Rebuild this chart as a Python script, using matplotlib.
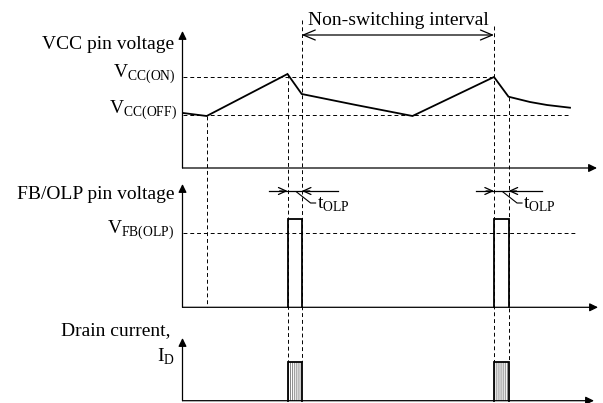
import numpy as np
import matplotlib
matplotlib.use("Agg")
import matplotlib.pyplot as plt
from matplotlib.patches import Rectangle

plt.rcParams["font.family"] = ["Liberation Serif", "DejaVu Serif"]
plt.rcParams["mathtext.fontset"] = "custom"
plt.rcParams["mathtext.rm"] = "Liberation Serif"
plt.rcParams["hatch.linewidth"] = 0.5

# --- data (canvas units, x = time position, heights above each panel's axis) ---
axis_x = 182.5
panel_base = [168.0, 307.3, 400.7]        # VCC, FB/OLP, drain current
panel_top = [31.0, 184.0, 338.0]
panel_end = [597.0, 598.0, 594.0]

vcc_t = [183.0, 206.7, 287.5, 301.7, 355.0, 412.5, 494.0, 508.5, 530.0, 547.0, 570.0]
vcc_h = [55.0, 52.0, 94.0, 74.0, 63.2, 52.0, 91.0, 71.3, 66.0, 63.0, 60.3]

vcc_on_h = 90.7
vcc_off_h = 52.6

vfb_olp_h = 74.0

pulse_start = [287.6, 494.0]
pulse_end = [301.8, 508.5]
fb_pulse_h = 88.0
id_pulse_h = 39.0

t_olp_extent = [(268.5, 338.0), (475.5, 542.0)]
t_olp_y = 191.0

# vertical guides: x, y from, y to
guides = [(206.7, 116.0, 307.0), (287.5, 74.0, 361.7), (301.7, 20.0, 361.7),
          (494.0, 26.0, 361.7), (508.5, 96.7, 361.7)]

fig = plt.figure(figsize=(6.03, 4.03), dpi=100)
ax = fig.add_axes([0, 0, 1, 1])
ax.set_xlim(0, 603)
ax.set_ylim(403, 0)
ax.axis("off")

dash = dict(color="black", lw=0.7, linestyle=(0, (4, 3)))
wave = dict(color="black", lw=1.3, solid_joinstyle="miter")


def axis_arrow(x0, y0, x1, y1):
    ax.annotate("", xy=(x1, y1), xytext=(x0, y0),
                arrowprops=dict(arrowstyle="-|>,head_length=0.45,head_width=0.22",
                                lw=0.9, color="black", mutation_scale=11,
                                shrinkA=0, shrinkB=0))


# axes of the three panels
for base, top, end in zip(panel_base, panel_top, panel_end):
    axis_arrow(axis_x, base, axis_x, top)
    axis_arrow(axis_x, base, end, base)

# dashed level lines
b0, b1, b2 = panel_base
ax.plot([axis_x, 494.0], [b0 - vcc_on_h, b0 - vcc_on_h], **dash)
ax.plot([axis_x, 569.0], [b0 - vcc_off_h, b0 - vcc_off_h], **dash)
ax.plot([axis_x, 577.0], [b1 - vfb_olp_h, b1 - vfb_olp_h], **dash)

for gx, gy0, gy1 in guides:
    ax.plot([gx, gx], [gy0, gy1], **dash)

# VCC waveform
ax.plot(vcc_t, [b0 - h for h in vcc_h], **wave)

# FB/OLP pulses
for s, e in zip(pulse_start, pulse_end):
    ax.plot([s, s, e, e], [b1, b1 - fb_pulse_h, b1 - fb_pulse_h, b1], **wave)

# drain current pulses (hatched)
for s, e in zip(pulse_start, pulse_end):
    ax.add_patch(Rectangle((s, b2 - id_pulse_h), e - s, id_pulse_h,
                           facecolor="white", edgecolor="#555555",
                           hatch="|" * 8, lw=0))
    ax.plot([s, s, e, e], [b2, b2 - id_pulse_h, b2 - id_pulse_h, b2], **wave)

# Non-switching interval
ax.annotate("", xy=(494.0, 35.0), xytext=(301.7, 35.0),
            arrowprops=dict(arrowstyle="<->,head_length=0.86,head_width=0.36",
                            lw=0.9, color="black", mutation_scale=10,
                            shrinkA=0, shrinkB=0))
ax.text(398.0, 25.0, "Non-switching interval", fontsize=14, ha="center", va="baseline")

# t_OLP markers
for (x0, x1), s, e in zip(t_olp_extent, pulse_start, pulse_end):
    ax.plot([x0, x1], [t_olp_y, t_olp_y], color="black", lw=0.9)
    for tip, tail in ((s, s - 8), (e, e + 8)):
        ax.annotate("", xy=(tip, t_olp_y), xytext=(tail, t_olp_y),
                    arrowprops=dict(arrowstyle="->,head_length=0.55,head_width=0.25",
                                    lw=0.9, color="black", mutation_scale=10,
                                    shrinkA=0, shrinkB=0))
    lx = s + 9
    ax.plot([lx, lx + 14, lx + 19], [t_olp_y + 1, 203.0, 203.0], color="black", lw=0.8)
    ax.text(lx + 20, 209.0, r"t$_{\mathrm{OLP}}$", fontsize=14, ha="left", va="baseline")

# labels
lab = dict(fontsize=14, ha="right", va="baseline")
ax.text(174.0, 49.3, "VCC pin voltage", **lab)
ax.text(176.0, 77.3, r"V$_{\mathrm{CC(ON)}}$", **lab)
ax.text(177.0, 114.0, r"V$_{\mathrm{CC(OFF)}}$", **lab)
ax.text(174.5, 199.0, "FB/OLP pin voltage", **lab)
ax.text(174.0, 233.3, r"V$_{\mathrm{FB(OLP)}}$", **lab)
ax.text(170.5, 335.0, "Drain current,", **lab)
ax.text(174.5, 362.0, r"I$_{\mathrm{D}}$", **lab)

fig.savefig("out.png", dpi=100)
